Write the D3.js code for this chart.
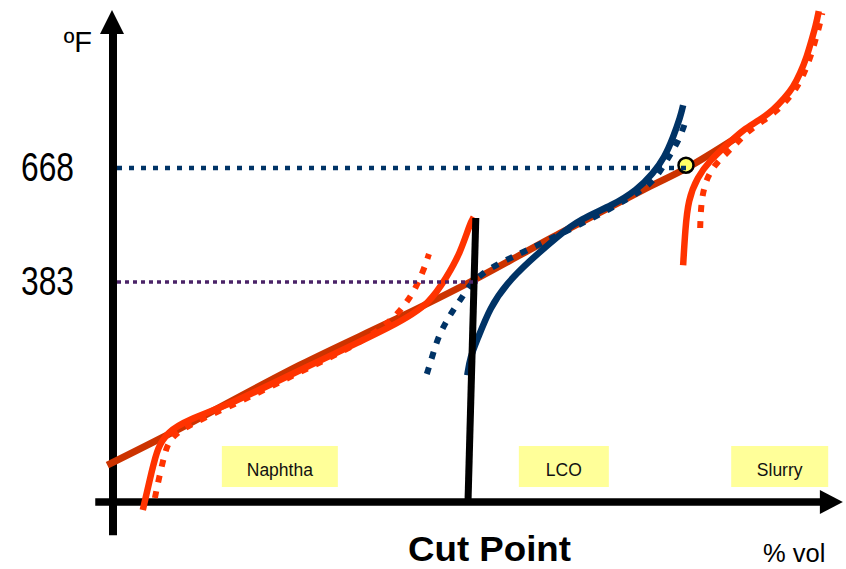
<!DOCTYPE html>
<html><head><meta charset="utf-8">
<script src="https://cdn.jsdelivr.net/npm/d3@7/dist/d3.min.js"></script>
<style>html,body{margin:0;padding:0;background:#fff;}svg{display:block;font-family:"Liberation Sans",Arial,sans-serif;}</style>
</head><body>
<svg id="c" width="846" height="569"></svg>
<script>
// ---- data (x: % vol, y: ºF) ----
const tickTemps = [383, 668];
const categories = ["Naphtha", "LCO", "Slurry"];
const categoryVol = [23.5, 63.5, 93.9];
const cutPointTemp = 383;
const endPointTemp = 668;
const overallCurve = [[-0.8,-75],[8.7,10],[26.3,175],[40.4,295],[50.3,383],[63.0,505],[75.2,618],[80.8,668],[87.9,745]];
const naphthaSolid = [[4.2,-187],[5.5,-87],[6.3,-30],[7.7,8],[10.4,38],[16.9,80],[26.3,163],[40.4,280],[44.6,330],[47.0,395],[48.9,455],[50.3,530],[50.8,545]];
const naphthaDotted = [[5.9,-157],[6.6,-97],[7.3,-45],[8.0,-7],[10.8,28],[17.9,83],[26.3,158],[34.8,230],[39.0,283],[41.1,325],[42.5,363],[43.7,410],[44.5,453]];
const lcoSolid = [[49.9,150],[50.3,195],[51.3,238],[53.1,320],[55.5,380],[58.3,430],[63.0,503],[65.8,540],[70.4,575],[73.8,613],[76.1,655],[77.7,695],[78.9,745],[79.9,795],[80.3,825]];
const lcoDotted = [[44.2,153],[45.1,205],[45.8,245],[46.8,280],[47.9,313],[49.2,345],[50.3,378],[52.1,405],[54.1,428],[58.7,465],[64.4,515],[70.0,565],[74.6,613],[76.3,640],[77.6,675],[78.7,708],[79.6,735],[80.4,770],[80.8,795]];
const slurrySolid = [[80.3,425],[80.6,513],[81.0,588],[82.3,645],[84.1,688],[86.9,733],[88.7,763],[91.1,788],[93.0,813],[94.6,843],[95.8,870],[96.8,905],[97.7,945],[98.4,988],[99.0,1025],[99.4,1060]];
const slurryDotted = [[82.7,518],[82.8,568],[83.1,608],[83.7,645],[84.9,680],[87.6,725],[89.4,760],[91.6,786],[93.5,811],[95.1,841],[96.3,868],[97.3,903],[98.2,943],[98.9,986],[99.5,1023],[99.9,1055]];
const cutLine = [[50.0,-167],[51.1,543]];
const endPoint = [80.7, 675];
const axisOrigin = [0, -167];
const xAxisExtent = [-2.5, 102.8];
const yAxisExtent = [-250, 1063];

// ---- scales ----
const x = d3.scaleLinear().domain([0, 100]).range([113, 823]);
const y = d3.scaleLinear().domain([383, 668]).range([282, 168]);

const svg = d3.select("#c");
const lineCR = d3.line().x(d => x(d[0])).y(d => y(d[1])).curve(d3.curveCatmullRom.alpha(0.5));
const lineB = d3.line().x(d => x(d[0])).y(d => y(d[1])).curve(d3.curveBasis);

const ORANGE = "#FF3300", BROWN = "#CC3300", NAVY = "#003366", PURPLE = "#4B2468";

// category boxes
const boxW = [116, 90, 97];
categories.forEach((c, i) => {
  const cx = x(categoryVol[i]);
  svg.append("rect").attr("x", cx - boxW[i]/2).attr("y", 446).attr("width", boxW[i]).attr("height", 41)
    .attr("fill", "#FFFF99");
  svg.append("text").attr("x", cx).attr("y", 476).attr("text-anchor", "middle")
    .attr("font-size", 17.5).attr("fill", "#111").text(c);
});

// axes
const ax0 = x(axisOrigin[0]), ay0 = y(axisOrigin[1]);
svg.append("line").attr("x1", x(xAxisExtent[0])).attr("x2", x(xAxisExtent[1]) - 20)
  .attr("y1", ay0).attr("y2", ay0).attr("stroke", "#000").attr("stroke-width", 7.5);
svg.append("path").attr("d", `M${x(xAxisExtent[1])},${ay0} L${x(xAxisExtent[1]) - 23},${ay0 - 12} L${x(xAxisExtent[1]) - 23},${ay0 + 12} Z`).attr("fill", "#000");
svg.append("line").attr("x1", ax0).attr("x2", ax0).attr("y1", y(yAxisExtent[0])).attr("y2", y(yAxisExtent[1]) + 20)
  .attr("stroke", "#000").attr("stroke-width", 8);
svg.append("path").attr("d", `M${ax0 - 1},${y(yAxisExtent[1])} L${ax0 - 13},${y(yAxisExtent[1]) + 24} L${ax0 + 11},${y(yAxisExtent[1]) + 24} Z`).attr("fill", "#000");

// curves
const drawCurve = (gen, data, color, dotted, w) => {
  const p = svg.append("path").attr("d", gen(data)).attr("fill", "none")
    .attr("stroke", color).attr("stroke-width", w || 6.5);
  if (dotted) p.attr("stroke-dasharray", "7,9");
  return p;
};
drawCurve(lineCR, overallCurve, BROWN, false, 7);
drawCurve(lineB, naphthaDotted, ORANGE, true, 6);
drawCurve(lineB, naphthaSolid, ORANGE, false, 6.5);
drawCurve(lineB, slurryDotted, ORANGE, true, 6);
drawCurve(lineB, slurrySolid, ORANGE, false, 6.5);
drawCurve(lineB, lcoDotted, NAVY, true, 6);
drawCurve(lineB, lcoSolid, NAVY, false, 6.5);

// cut line
svg.append("line").attr("x1", x(cutLine[0][0])).attr("y1", y(cutLine[0][1]))
  .attr("x2", x(cutLine[1][0])).attr("y2", y(cutLine[1][1]))
  .attr("stroke", "#000").attr("stroke-width", 7);

// end point dot
svg.append("circle").attr("cx", x(endPoint[0])).attr("cy", y(endPoint[1])).attr("r", 7.5)
  .attr("fill", "#FFFF66").attr("stroke", "#000").attr("stroke-width", 2.5);

// reference dotted lines
svg.append("line").attr("x1", x(0) + 4).attr("x2", x(51.4)).attr("y1", y(cutPointTemp)).attr("y2", y(cutPointTemp))
  .attr("stroke", PURPLE).attr("stroke-width", 3.5).attr("stroke-dasharray", "4,4");
svg.append("line").attr("x1", x(0) + 4).attr("x2", x(81.6)).attr("y1", y(endPointTemp)).attr("y2", y(endPointTemp))
  .attr("stroke", NAVY).attr("stroke-width", 4.5).attr("stroke-dasharray", "5,7");

// y tick labels via axis
const yAxis = d3.axisLeft(y).tickValues(tickTemps).tickSize(0).tickPadding(39).tickFormat(d3.format("d"));
const gy = svg.append("g").attr("transform", `translate(${ax0},0)`).call(yAxis);
gy.select(".domain").remove();
gy.selectAll("text").attr("font-size", 40).attr("font-family", "Liberation Sans, Arial, sans-serif")
  .attr("fill", "#000").attr("textLength", 53).attr("lengthAdjust", "spacingAndGlyphs");

// axis titles
svg.append("text").attr("x", 92).attr("y", 52).attr("text-anchor", "end").attr("font-size", 29).text("ºF");
svg.append("text").attr("x", 408).attr("y", 561).attr("font-size", 35).attr("font-weight", "bold")
  .attr("textLength", 163).attr("lengthAdjust", "spacingAndGlyphs").text("Cut Point");
svg.append("text").attr("x", 763).attr("y", 562).attr("font-size", 25.5).text("% vol");
</script>
</body></html>
